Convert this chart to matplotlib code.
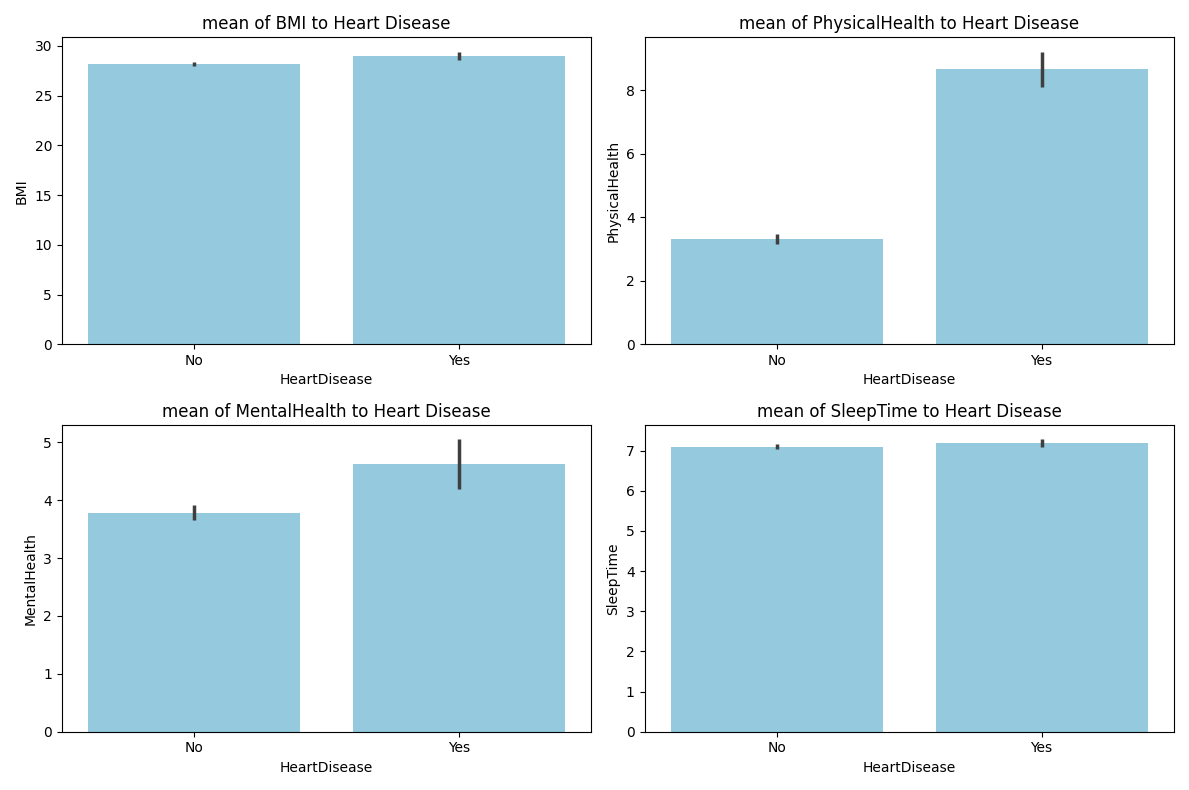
import matplotlib
matplotlib.use("Agg")
import matplotlib.pyplot as plt
import seaborn as sns

categories = ["No", "Yes"]
variables = ["BMI", "PhysicalHealth", "MentalHealth", "SleepTime"]
means = {"BMI": [28.2, 29.0], "PhysicalHealth": [3.32, 8.65],
         "MentalHealth": [3.78, 4.62], "SleepTime": [7.1, 7.18]}
ci_low = {"BMI": [28.0, 28.6], "PhysicalHealth": [3.15, 8.1],
          "MentalHealth": [3.65, 4.2], "SleepTime": [7.05, 7.08]}
ci_high = {"BMI": [28.4, 29.4], "PhysicalHealth": [3.47, 9.2],
           "MentalHealth": [3.92, 5.05], "SleepTime": [7.16, 7.28]}

color = sns.desaturate("skyblue", 0.75)
fig, axes = plt.subplots(2, 2, figsize=(11.89, 7.9), dpi=100)
for ax, var in zip(axes.flat, variables):
    x = range(len(categories))
    ax.bar(x, means[var], width=0.8, color=color)
    ax.vlines(x, ci_low[var], ci_high[var], color="#3f3f3f", linewidth=2.5)
    ax.set_xticks(list(x))
    ax.set_xticklabels(categories)
    ax.set_xlim(-0.5, 1.5)
    ax.set_xlabel("HeartDisease")
    ax.set_ylabel(var)
    ax.set_title(f"mean of {var} to Heart Disease")
fig.tight_layout()
fig.savefig("out.png")
